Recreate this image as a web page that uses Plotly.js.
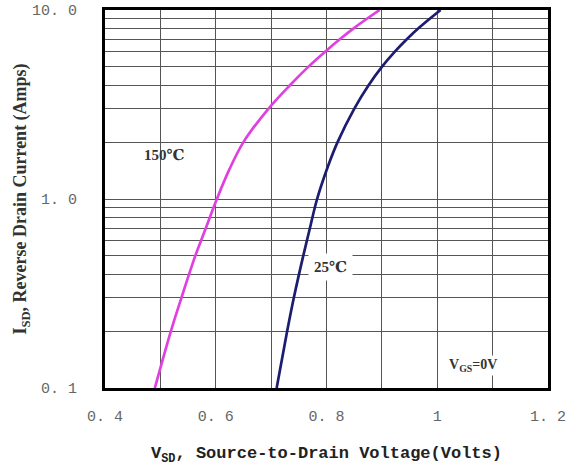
<!DOCTYPE html>
<html>
<head>
<meta charset="utf-8">
<script src="https://cdn.plot.ly/plotly-3.0.1.min.js"></script>
<style>html,body{margin:0;padding:0;background:#fff;}#chart{width:574px;height:473px;}</style>
</head>
<body>
<div id="chart"></div>
<script>
// 150°C curve
const v150 = [0.49, 0.519, 0.538, 0.563, 0.582, 0.602, 0.623, 0.65, 0.695, 0.734, 0.767, 0.797, 0.824, 0.849, 0.896];
const i150 = [0.1, 0.2, 0.3, 0.5, 0.7, 1.0, 1.4, 2, 3, 4, 5, 6, 7, 8, 10];
// 25°C curve
const v25 = [0.71, 0.729, 0.741, 0.758, 0.77, 0.783, 0.803, 0.82, 0.85, 0.876, 0.9, 0.923, 0.945, 0.966, 1.006];
const i25 = [0.1, 0.2, 0.3, 0.5, 0.7, 1.0, 1.5, 2, 3, 4, 5, 6, 7, 8, 10];

const xTickVals = [0.4, 0.6, 0.8, 1.0, 1.2];
const xTickText = ['0. 4', '0. 6', '0. 8', '1', '1. 2'];
const yTickVals = [0.1, 1, 10];
const yTickText = ['0. 1', '1. 0', '10. 0'];
const yMinorVals = [0.2,0.3,0.4,0.5,0.6,0.7,0.8,0.9,2,3,4,5,6,7,8,9];

const mono = 'Liberation Mono, DejaVu Sans Mono, monospace';
const serif = 'Liberation Serif, DejaVu Serif, serif';
const gridC = '#555';

const traces = [
  {x: v150, y: i150, mode: 'lines', line: {color: '#e040e0', width: 2.7, shape: 'spline', smoothing: 1}, name: '150℃', showlegend: false, hoverinfo: 'skip'},
  {x: v25, y: i25, mode: 'lines', line: {color: '#1c1c70', width: 2.7, shape: 'spline', smoothing: 1}, name: '25℃', showlegend: false, hoverinfo: 'skip'}
];

const layout = {
  width: 574, height: 473,
  margin: {l: 105, r: 26, t: 10, b: 85},
  paper_bgcolor: '#fff', plot_bgcolor: '#fff',
  xaxis: {
    range: [0.4, 1.2], tickmode: 'array', tickvals: xTickVals, ticktext: xTickText,
    showgrid: true, gridcolor: gridC, gridwidth: 1,
    minor: {dtick: 0.1, tick0: 0.4, showgrid: true, gridcolor: gridC, gridwidth: 1, ticks: ''},
    showline: true, mirror: true, linecolor: '#000', linewidth: 3,
    ticks: '', zeroline: false, ticklabelstandoff: 12,
    tickfont: {family: mono, size: 15, color: '#666'},
    title: {text: 'V<sub>SD</sub>, Source-to-Drain Voltage(Volts)', font: {family: mono, size: 17, color: '#222', weight: 'bold'}, standoff: 22}
  },
  yaxis: {
    type: 'log', range: [-1, 1], tickmode: 'array', tickvals: yTickVals, ticktext: yTickText,
    showgrid: true, gridcolor: gridC, gridwidth: 1,
    minor: {tickmode: 'array', tickvals: yMinorVals, showgrid: true, gridcolor: gridC, gridwidth: 1, ticks: ''},
    showline: true, mirror: true, linecolor: '#000', linewidth: 3,
    ticks: '', zeroline: false, ticklabelstandoff: 22,
    tickfont: {family: mono, size: 15, color: '#666'},
    title: {text: 'I<sub>SD</sub>, Reverse Drain Current (Amps)', font: {family: serif, size: 18, color: '#333', weight: 'bold'}, standoff: 1}
  },
  annotations: [
    {x: 0.508, y: Math.log10(1.71), xref: 'x', yref: 'y', text: '150℃', showarrow: false, font: {family: serif, size: 15, color: '#333', weight: 'bold'}},
    {x: 0.807, y: Math.log10(0.436), xref: 'x', yref: 'y', text: '25℃', showarrow: false, bgcolor: '#fff', borderpad: 5, font: {family: serif, size: 15, color: '#333', weight: 'bold'}},
    {x: 1.065, y: Math.log10(0.132), xref: 'x', yref: 'y', text: 'V<sub>GS</sub>=0V', showarrow: false, bgcolor: '#fff', font: {family: serif, size: 14, color: '#333', weight: 'bold'}}
  ]
};

Plotly.newPlot('chart', traces, layout, {displayModeBar: false, staticPlot: true});
</script>
</body>
</html>
